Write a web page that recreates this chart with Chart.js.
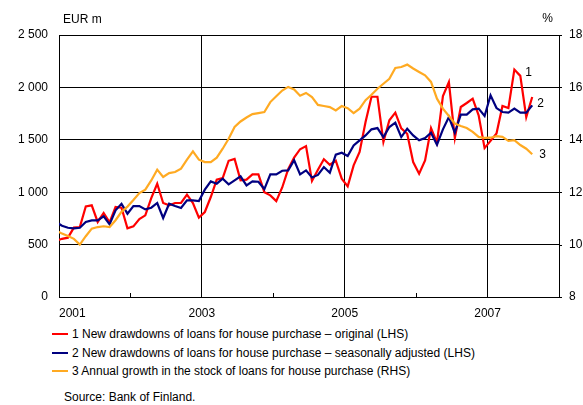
<!DOCTYPE html>
<html>
<head>
<meta charset="utf-8">
<script src="https://cdn.jsdelivr.net/npm/chart.js@4.4.0/dist/chart.umd.min.js"></script>
<style>
    body { margin: 0; background: #fff; font-family: 'Liberation Sans', Arial, sans-serif; color: #000; }
    #wrap { position: relative; width: 583px; height: 405px; overflow: hidden; }
    #chartBox { position: absolute; left: 0; top: 0; width: 583px; height: 325px; }
    .legend { position: absolute; left: 52px; top: 325px; font-size: 12px; }
    .legend-row { height: 18.5px; display: flex; align-items: center; white-space: nowrap; }
    .legend-line { width: 16px; height: 2px; margin-right: 4px; }
    .source { position: absolute; left: 64px; top: 390px; font-size: 12px; line-height: 14px; }
</style>
</head>
<body>
<div id="wrap">
    <div id="chartBox"><canvas id="loansChart"></canvas></div>
    <div class="legend" id="legend"></div>
    <div class="source">Source: Bank of Finland.</div>
</div>
<script>
// Monthly data, Dec 2000 .. Aug 2007 (first value sits just left of the axis and is clipped)
const firstMonth = -1; // months after Jan 2001
const yearLabels = ['2001', '2003', '2005', '2007'];
const minorYearTicks = [12, 36, 60];

const drawdownsOriginal = [535, 555, 566, 662, 668, 865, 875, 716, 801, 712, 859, 852, 655, 674, 744, 779, 944, 1081, 897, 875,
    897, 897, 976, 897, 757, 811, 954, 1119, 1135, 1300, 1318, 1113, 1120, 1170, 1170, 1000, 970, 915, 1045, 1220,
    1330, 1410, 1440, 1107, 1215, 1314, 1262, 1300, 1129, 1056, 1256, 1384, 1670, 1911, 1911, 1479, 1686, 1759, 1610, 1558,
    1288, 1177, 1304, 1612, 1472, 1918, 2051, 1517, 1813, 1851, 1892, 1733, 1421, 1490, 1560, 1822, 1803, 2170, 2110, 1717, 1908];

const drawdownsAdjusted = [715, 680, 661, 655, 661, 716, 731, 731, 770, 693, 827, 890, 795, 868, 868, 836, 852, 897, 754, 890,
    868, 849, 922, 922, 916, 1024, 1103, 1081, 1129, 1075, 1113, 1151, 1065, 1103, 1100, 1030, 1170, 1170, 1205, 1208,
    1305, 1170, 1208, 1140, 1165, 1240, 1186, 1358, 1377, 1345, 1447, 1495, 1542, 1600, 1612, 1526, 1622, 1663, 1526, 1606,
    1542, 1495, 1517, 1568, 1453, 1600, 1717, 1568, 1740, 1740, 1790, 1797, 1727, 1925, 1803, 1765, 1759, 1797, 1759, 1759, 1829];

const stockGrowth = [10.55, 10.42, 10.33, 10.22, 10.0, 10.32, 10.61, 10.67, 10.70, 10.67, 10.93, 11.25, 11.45, 11.70, 11.97, 12.10, 12.45, 12.86, 12.58, 12.73,
    12.77, 12.90, 13.24, 13.56, 13.24, 13.15, 13.15, 13.32, 13.66, 14.04, 14.49, 14.70, 14.85, 14.98, 15.02, 15.06, 15.44, 15.66, 15.88, 16.02,
    15.92, 15.68, 15.79, 15.63, 15.33, 15.29, 15.25, 15.12, 15.29, 15.21, 15.02, 15.19, 15.51, 15.72, 15.95, 16.14, 16.33, 16.74, 16.78, 16.87,
    16.72, 16.59, 16.46, 16.21, 15.57, 15.19, 14.91, 14.62, 14.53, 14.45, 14.30, 14.11, 14.07, 14.08, 14.14, 14.11, 13.96, 13.99, 13.80, 13.66, 13.45];

const seriesNames = [
    '1 New drawdowns of loans for house purchase \u2013 original (LHS)',
    '2 New drawdowns of loans for house purchase \u2013 seasonally adjusted (LHS)',
    '3 Annual growth in the stock of loans for house purchase (RHS)'
];
const seriesTags = ['1', '2', '3'];
const seriesColors = ['#ff0000', '#000080', '#ffaa22'];

// plot points at mid-month
const toPoints = arr => arr.map((v, i) => ({ x: firstMonth + i + 0.5, y: v }));
const spaced = v => v >= 1000 ? Math.floor(v / 1000) + ' ' + String(v % 1000).padStart(3, '0') : String(v);

// small extras: inner year ticks, right-hand ticks, unit captions and series numbers
const chartExtras = {
    id: 'chartExtras',
    afterDatasetsDraw(chart) {
        const { ctx, chartArea: a, scales } = chart;
        ctx.save();
        ctx.strokeStyle = '#000';
        ctx.lineWidth = 1;
        minorYearTicks.forEach(v => {
            const x = Math.round(scales.x.getPixelForValue(v)) + 0.5;
            ctx.beginPath(); ctx.moveTo(x, a.bottom); ctx.lineTo(x, a.bottom - 4); ctx.stroke();
        });
        scales.y1.ticks.forEach(t => {
            const y = Math.round(scales.y1.getPixelForValue(t.value)) + 0.5;
            ctx.beginPath(); ctx.moveTo(a.right, y); ctx.lineTo(a.right + 3, y); ctx.stroke();
        });

        ctx.fillStyle = '#000';
        ctx.font = "12px 'Liberation Sans', Arial, sans-serif";
        ctx.textBaseline = 'middle';
        ctx.textAlign = 'left';
        ctx.fillText('EUR m', a.left + 4, a.top - 15);
        ctx.textAlign = 'right';
        ctx.fillText('%', a.right - 6, a.top - 16);

        const tagOffsets = [[-7, -24], [5, -2], [7, 0]];
        ctx.textAlign = 'left';
        chart.data.datasets.forEach((ds, i) => {
            const pts = chart.getDatasetMeta(i).data;
            const last = pts[pts.length - 1];
            ctx.fillText(seriesTags[i], last.x + tagOffsets[i][0], last.y + tagOffsets[i][1]);
        });
        ctx.restore();
    }
};

const lineDataset = (i, data, axis, order) => ({
    label: seriesNames[i],
    data: toPoints(data),
    yAxisID: axis,
    borderColor: seriesColors[i],
    backgroundColor: seriesColors[i],
    borderWidth: 2.2,
    pointRadius: 0,
    tension: 0,
    order: order
});

new Chart(document.getElementById('loansChart'), {
    type: 'line',
    data: {
        datasets: [
            lineDataset(0, drawdownsOriginal, 'y', 3),
            lineDataset(1, drawdownsAdjusted, 'y', 2),
            lineDataset(2, stockGrowth, 'y1', 1)
        ]
    },
    options: {
        responsive: true,
        maintainAspectRatio: false,
        animation: false,
        layout: { padding: { top: 35, left: 0, right: 0, bottom: 0 } },
        plugins: { legend: { display: false }, tooltip: { enabled: false } },
        scales: {
            x: {
                type: 'linear',
                min: 0,
                max: 84,
                afterFit: s => { s.height = 28; },
                border: { display: true, color: '#000', width: 1 },
                grid: {
                    drawTicks: false,
                    color: c => (c.tick && c.tick.value % 24 === 0) || (c.tick && c.tick.value === 84) ? '#000' : 'rgba(0,0,0,0)'
                },
                ticks: {
                    stepSize: 12,
                    align: 'inner',
                    padding: 9,
                    color: '#000',
                    font: { family: "'Liberation Sans', Arial, sans-serif", size: 12 },
                    maxRotation: 0,
                    autoSkip: false,
                    callback: v => v % 24 === 0 && v < 84 ? yearLabels[v / 24] : ''
                }
            },
            y: {
                position: 'left',
                min: 0,
                max: 2500,
                afterFit: s => { s.width = 59; },
                border: { display: true, color: '#000', width: 1 },
                grid: { drawTicks: false, color: '#000', lineWidth: 1 },
                ticks: {
                    stepSize: 500,
                    padding: 11,
                    color: '#000',
                    font: { family: "'Liberation Sans', Arial, sans-serif", size: 12 },
                    callback: v => spaced(v)
                }
            },
            y1: {
                position: 'right',
                min: 8,
                max: 18,
                afterFit: s => { s.width = 24; },
                border: { display: true, color: '#000', width: 1 },
                grid: { drawOnChartArea: false, drawTicks: false },
                ticks: {
                    stepSize: 2,
                    padding: 10,
                    color: '#000',
                    font: { family: "'Liberation Sans', Arial, sans-serif", size: 12 }
                }
            }
        }
    },
    plugins: [chartExtras]
});

document.getElementById('legend').innerHTML = seriesNames.map((name, i) => `
    <div class="legend-row">
        <span class="legend-line" style="background:${seriesColors[i]}"></span>
        <span>${name}</span>
    </div>`).join('');
</script>
</body>
</html>
